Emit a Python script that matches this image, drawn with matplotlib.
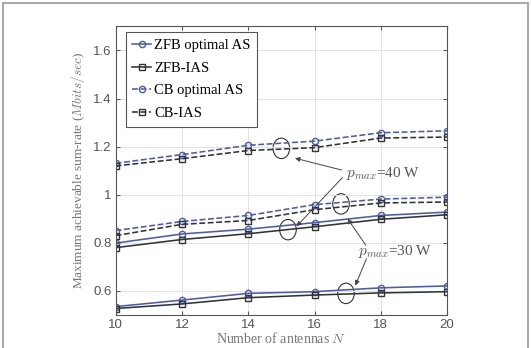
import matplotlib
matplotlib.use("Agg")
import matplotlib.pyplot as plt
from matplotlib.patches import Ellipse, Rectangle

plt.rcParams['mathtext.fontset'] = 'cm'

N = [10, 12, 14, 16, 18, 20]
zfb_opt_30 = [0.535, 0.562, 0.590, 0.597, 0.613, 0.621]
zfb_ias_30 = [0.527, 0.546, 0.572, 0.583, 0.592, 0.597]
zfb_opt_40 = [0.799, 0.837, 0.857, 0.884, 0.914, 0.928]
zfb_ias_40 = [0.780, 0.814, 0.838, 0.867, 0.898, 0.917]
cb_opt_30 = [0.851, 0.889, 0.914, 0.959, 0.982, 0.990]
cb_ias_30 = [0.830, 0.877, 0.893, 0.938, 0.966, 0.970]
cb_opt_40 = [1.131, 1.167, 1.206, 1.223, 1.258, 1.266]
cb_ias_40 = [1.120, 1.150, 1.184, 1.196, 1.236, 1.240]

blue = '#4a5cab'
black = '#333333'
serif = 'Liberation Serif'

fig = plt.figure(figsize=(5.31, 3.48), dpi=100)
fig.patches.append(Rectangle((3/531, -0.01), 525/531, 1 - 3/348 + 0.01, transform=fig.transFigure,
                             fill=False, edgecolor='#aaaaaa', linewidth=1.5))
ax = fig.add_axes([0.2177, 0.0948, 0.6243, 0.8292])

mk = dict(markersize=4.5, markerfacecolor='none', markeredgewidth=1.0)
lw = 1.15
l1, = ax.plot(N, zfb_opt_40, '-o', color=blue, lw=lw, **mk)
ax.plot(N, zfb_opt_30, '-o', color=blue, lw=lw, **mk)
l2, = ax.plot(N, zfb_ias_40, '-s', color=black, lw=lw, **mk)
ax.plot(N, zfb_ias_30, '-s', color=black, lw=lw, **mk)
l3, = ax.plot(N, cb_opt_40, '--o', color=blue, lw=lw, **mk)
ax.plot(N, cb_opt_30, '--o', color=blue, lw=lw, **mk)
l4, = ax.plot(N, cb_ias_40, '--s', color=black, lw=lw, **mk)
ax.plot(N, cb_ias_30, '--s', color=black, lw=lw, **mk)

ax.set_xlim(10, 20)
ax.set_ylim(0.5, 1.7)
ax.set_xticks([10, 12, 14, 16, 18, 20])
ax.set_yticks([0.6, 0.8, 1.0, 1.2, 1.4, 1.6])
ax.set_yticklabels(['0.6', '0.8', '1', '1.2', '1.4', '1.6'])
ax.grid(True, color='#e3e3e3', linewidth=0.7)
ax.tick_params(direction='in', top=True, right=True, labelsize=9.5, colors='#555555', length=3, pad=3)
for lab in ax.get_xticklabels() + ax.get_yticklabels():
    lab.set_fontfamily('Liberation Sans')
for s in ax.spines.values():
    s.set_color('#555555')
    s.set_linewidth(0.8)

ax.set_xlabel('Number of antennas $N$', fontfamily=serif, fontsize=10, color='#777777', labelpad=0)
ax.set_ylabel('Maximum achievable sum-rate ($Mbits/sec$)', fontfamily=serif, fontsize=9.5,
              color='#777777', labelpad=4)

leg = ax.legend([l1, l2, l3, l4], ['ZFB optimal AS', 'ZFB-IAS', 'CB optimal AS', 'CB-IAS'],
                loc='upper left', bbox_to_anchor=(0.03, 0.98), prop={'family': serif, 'size': 10.5},
                handlelength=1.3, handletextpad=0.2, labelspacing=0.65, borderpad=0.45,
                borderaxespad=0.0, fancybox=False, framealpha=1, edgecolor='#555555')
leg.get_frame().set_linewidth(0.8)

for (x, y) in [(15.0, 1.193), (15.2, 0.855), (16.8, 0.962), (16.95, 0.59)]:
    ax.add_patch(Ellipse((x, y), 0.5, 0.085, fill=False, edgecolor=black, lw=0.8))

ax.text(16.95, 1.09, '$p_{max}$=40 W', fontfamily=serif, fontsize=11, color='#555555', va='center')
ax.text(17.3, 0.763, '$p_{max}$=30 W', fontfamily=serif, fontsize=11, color='#555555', va='center')

ap = dict(arrowstyle='-|>', color='#444444', lw=0.7, mutation_scale=7)
ax.annotate('', xy=(15.33, 1.155), xytext=(16.9, 1.1), arrowprops=ap)
ax.annotate('', xy=(15.4, 0.86), xytext=(16.9, 1.08), arrowprops=ap)
ax.annotate('', xy=(16.95, 0.91), xytext=(17.6, 0.78), arrowprops=ap)
ax.annotate('', xy=(17.2, 0.612), xytext=(17.6, 0.745), arrowprops=ap)

fig.savefig('out.png', dpi=100)
